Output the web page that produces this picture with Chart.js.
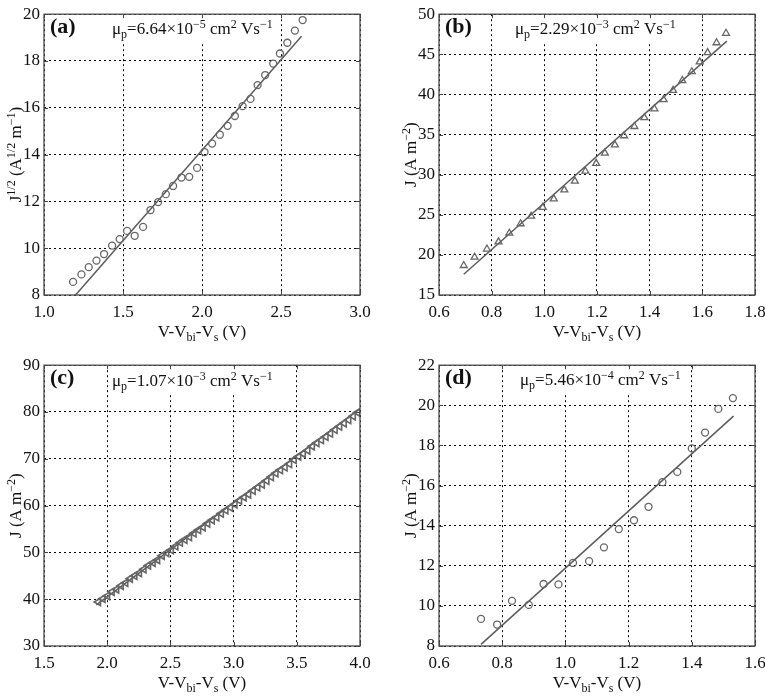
<!DOCTYPE html>
<html>
<head>
<meta charset="utf-8">
<script src="https://cdn.jsdelivr.net/npm/chart.js@4.4.0/dist/chart.umd.min.js"></script>
<style>
  body { margin: 0; background: #fff; overflow: hidden; width: 765px; height: 697px; position: relative; }
  canvas { position: absolute; }
</style>
</head>
<body>
<canvas id="chartA" width="382" height="350" style="left:0;top:0"></canvas>
<canvas id="chartB" width="382" height="350" style="left:395px;top:0"></canvas>
<canvas id="chartC" width="382" height="350" style="left:0;top:351px"></canvas>
<canvas id="chartD" width="382" height="350" style="left:395px;top:351px"></canvas>
<script>
// panel (a): J^1/2 vs V
const aV = [1.184, 1.237, 1.283, 1.332, 1.380, 1.431, 1.479, 1.526, 1.574, 1.627, 1.674, 1.722, 1.771, 1.817, 1.870, 1.919,
            1.969, 2.016, 2.064, 2.113, 2.162, 2.208, 2.257, 2.307, 2.352, 2.400, 2.451, 2.493, 2.540, 2.588, 2.637];
const aJ = [8.56, 8.88, 9.19, 9.47, 9.75, 10.11, 10.39, 10.74, 10.53, 10.91, 11.63, 11.97, 12.31, 12.66, 13.02, 13.05,
            13.43, 14.11, 14.47, 14.85, 15.23, 15.65, 16.07, 16.38, 16.97, 17.40, 17.89, 18.32, 18.78, 19.30, 19.75];
const aFitV = [1.2, 2.63];
const aFitJ = [8.0, 19.06];

// panel (b)
const bV = [0.694, 0.735, 0.782, 0.826, 0.867, 0.910, 0.950, 0.994, 1.036, 1.076, 1.116, 1.156, 1.197, 1.230,
            1.268, 1.303, 1.342, 1.380, 1.418, 1.453, 1.489, 1.524, 1.560, 1.590, 1.620, 1.654, 1.690];
const bJ = [18.68, 19.71, 20.73, 21.63, 22.70, 23.88, 24.82, 25.93, 26.99, 28.10, 29.20, 30.43, 31.41, 32.68,
            33.71, 34.85, 36.00, 37.10, 38.21, 39.36, 40.50, 41.73, 42.83, 44.06, 45.21, 46.44, 47.62];
const bFitV = [0.694, 1.693];
const bFitJ = [17.58, 46.64];

// panel (c)
const cV = [1.930, 1.966, 2.002, 2.038, 2.074, 2.110, 2.146, 2.182, 2.218, 2.254, 2.290, 2.326, 2.362, 2.398, 2.434,
            2.470, 2.506, 2.542, 2.578, 2.614, 2.650, 2.686, 2.722, 2.758, 2.794, 2.830, 2.866, 2.902, 2.938, 2.974,
            3.010, 3.046, 3.082, 3.118, 3.154, 3.190, 3.226, 3.262, 3.298, 3.334, 3.370, 3.406, 3.442, 3.478, 3.514,
            3.550, 3.586, 3.622, 3.658, 3.694, 3.730, 3.766, 3.802, 3.838, 3.874, 3.910, 3.946, 3.982];
const cJ = [39.4, 40.1, 40.7, 41.6, 42.1, 42.9, 43.5, 44.4, 45.0, 45.6, 46.4, 47.2, 47.8, 48.4, 49.3,
            49.9, 50.5, 51.3, 52.1, 52.7, 53.3, 54.1, 54.8, 55.4, 56.2, 56.9, 57.5, 58.3, 59.0, 59.6,
            60.3, 61.1, 61.8, 62.4, 63.2, 63.9, 64.5, 65.3, 66.1, 66.9, 67.6, 68.2, 68.9, 69.8, 70.5,
            71.1, 71.8, 72.7, 73.4, 74.0, 74.7, 75.4, 76.2, 76.9, 77.6, 78.3, 79.1, 79.9];
const cFitV = [1.914, 3.995];
const cFitJ = [38.8, 80.6];

// panel (d)
const dV = [0.733, 0.784, 0.831, 0.884, 0.931, 0.978, 1.024, 1.075, 1.122, 1.169, 1.217, 1.263, 1.307, 1.354,
            1.400, 1.442, 1.484, 1.530];
const dJ = [9.35, 9.07, 10.25, 10.05, 11.09, 11.07, 12.14, 12.23, 12.92, 13.83, 14.27, 14.94, 16.17, 16.68,
            17.85, 18.64, 19.82, 20.36];
const dFitV = [0.733, 1.532];
const dFitJ = [8.08, 19.46];

const FONT = 'Liberation Serif';
const MARK = '#666';
Chart.defaults.font.family = FONT;

// draws "V-V_{bi}" / "m^{-1}" style text on the canvas, returns its width
function drawRich(ctx, text, x, y, size, align, measureOnly) {
  const parts = [];
  const re = /([_^])\{([^}]*)\}|([^_^]+)/g;
  let m;
  while ((m = re.exec(text)) !== null) {
    if (m[3]) parts.push({ t: m[3], k: '' });
    else parts.push({ t: m[2], k: m[1] });
  }
  const small = Math.round(size * 0.7);
  let total = 0;
  parts.forEach(p => {
    ctx.font = (p.k ? small : size) + 'px "' + FONT + '"';
    p.w = ctx.measureText(p.t).width;
    total += p.w;
  });
  if (measureOnly) return total;
  let cx = align === 'center' ? x - total / 2 : x;
  ctx.textAlign = 'left';
  ctx.textBaseline = 'alphabetic';
  parts.forEach(p => {
    ctx.font = (p.k ? small : size) + 'px "' + FONT + '"';
    const dy = p.k === '_' ? size * 0.25 : p.k === '^' ? -size * 0.38 : 0;
    ctx.fillText(p.t, cx, y + dy);
    cx += p.w;
  });
  return total;
}

const panelText = {
  id: 'panelText',
  afterDraw(chart) {
    const o = chart.options.plugins.panelText;
    const ctx = chart.ctx;
    const a = chart.chartArea;
    ctx.save();

    // white patch under the mobility note, grid lines stop below it
    const nx = a.left + o.noteX, ny = a.top + o.noteY;
    const nw = drawRich(ctx, o.note, nx, ny, 17, 'left', true);
    ctx.fillStyle = '#fff';
    ctx.fillRect(nx - 3, a.top + 1, nw + 6, o.noteY + 7);

    // inward tick marks
    ctx.strokeStyle = '#444';
    ctx.lineWidth = 1;
    const xs = chart.scales.x, ys = chart.scales.y;
    ctx.beginPath();
    xs.ticks.forEach(t => {
      const px = Math.round(xs.getPixelForValue(t.value)) + 0.5;
      ctx.moveTo(px, a.bottom); ctx.lineTo(px, a.bottom - 4);
      ctx.moveTo(px, a.top); ctx.lineTo(px, a.top + 4);
    });
    ys.ticks.forEach(t => {
      const py = Math.round(ys.getPixelForValue(t.value)) + 0.5;
      ctx.moveTo(a.left, py); ctx.lineTo(a.left + 4, py);
      ctx.moveTo(a.right, py); ctx.lineTo(a.right - 4, py);
    });
    ctx.stroke();

    // frame
    ctx.strokeStyle = '#4a4a4a';
    ctx.lineWidth = 1.3;
    ctx.strokeRect(a.left, a.top, a.right - a.left, a.bottom - a.top);

    ctx.fillStyle = '#111';
    ctx.font = 'bold 22px "' + FONT + '"';
    ctx.textAlign = 'left';
    ctx.fillText(o.tag, a.left + 6, a.top + 19);

    drawRich(ctx, o.note, nx, ny, 17, 'left');
    drawRich(ctx, 'V-V_{bi}-V_{s} (V)', (a.left + a.right) / 2, a.bottom + 42, 17, 'center');

    ctx.translate(a.left - 28, (a.top + a.bottom) / 2);
    ctx.rotate(-Math.PI / 2);
    drawRich(ctx, o.yTitle, 0, 5, 17, 'center');
    ctx.restore();
  }
};

function makeChart(id, vs, js, fitV, fitJ, marker, xr, yr, txt) {
  const pts = vs.map((v, i) => ({ x: v, y: js[i] }));
  const fit = fitV.map((v, i) => ({ x: v, y: fitJ[i] }));
  return new Chart(document.getElementById(id), {
    type: 'scatter',
    data: {
      datasets: [
        {
          data: pts,
          pointStyle: marker.style,
          rotation: marker.rotation || 0,
          pointRadius: marker.radius,
          pointBorderColor: MARK,
          pointBackgroundColor: 'rgba(0,0,0,0)',
          pointBorderWidth: marker.width || 1.3,
          showLine: false
        },
        {
          type: 'line',
          data: fit,
          borderColor: '#5c5c5c',
          borderWidth: 1.5,
          pointRadius: 0,
          fill: false
        }
      ]
    },
    options: {
      responsive: false,
      animation: false,
      layout: { padding: { left: 0, top: 10, right: 22, bottom: 0 } },
      plugins: {
        legend: { display: false },
        tooltip: { enabled: false },
        panelText: txt
      },
      scales: {
        x: {
          type: 'linear',
          min: xr[0], max: xr[1],
          afterFit: s => { s.height = 55; },
          afterBuildTicks: s => { s.ticks = xr[2].map(v => ({ value: v })); },
          border: { display: false, dash: [2, 3] },
          grid: { color: '#000', lineWidth: 1, drawTicks: false },
          ticks: {
            autoSkip: false, maxRotation: 0, padding: 7, color: '#111',
            font: { family: FONT, size: 17 },
            callback: v => v.toFixed(1)
          }
        },
        y: {
          min: yr[0], max: yr[1],
          afterFit: s => { s.width = 44; },
          afterBuildTicks: s => { s.ticks = yr[2].map(v => ({ value: v })); },
          border: { display: false, dash: [2, 3] },
          grid: { color: '#000', lineWidth: 1, drawTicks: false },
          ticks: {
            autoSkip: false, padding: 4, color: '#111',
            font: { family: FONT, size: 17 },
            callback: v => String(v)
          }
        }
      }
    },
    plugins: [panelText]
  });
}

makeChart('chartA', aV, aJ, aFitV, aFitJ, { style: 'circle', radius: 3.5 },
  [1.0, 3.0, [1.0, 1.5, 2.0, 2.5, 3.0]], [8, 20, [8, 10, 12, 14, 16, 18, 20]],
  { tag: '(a)', note: 'μ_{p}=6.64×10^{−5} cm^{2} Vs^{−1}', noteX: 68, noteY: 20,
    yTitle: 'J^{1/2} (A^{1/2} m^{−1})' });

makeChart('chartB', bV, bJ, bFitV, bFitJ, { style: 'triangle', radius: 4 },
  [0.6, 1.8, [0.6, 0.8, 1.0, 1.2, 1.4, 1.6, 1.8]], [15, 50, [15, 20, 25, 30, 35, 40, 45, 50]],
  { tag: '(b)', note: 'μ_{p}=2.29×10^{−3} cm^{2} Vs^{−1}', noteX: 76, noteY: 20,
    yTitle: 'J (A m^{−2})' });

makeChart('chartC', cV, cJ, cFitV, cFitJ, { style: 'triangle', radius: 4.2, rotation: -90, width: 1.6 },
  [1.5, 4.0, [1.5, 2.0, 2.5, 3.0, 3.5, 4.0]], [30, 90, [30, 40, 50, 60, 70, 80, 90]],
  { tag: '(c)', note: 'μ_{p}=1.07×10^{−3} cm^{2} Vs^{−1}', noteX: 68, noteY: 21,
    yTitle: 'J (A m^{−2})' });

makeChart('chartD', dV, dJ, dFitV, dFitJ, { style: 'circle', radius: 3.5 },
  [0.6, 1.6, [0.6, 0.8, 1.0, 1.2, 1.4, 1.6]], [8, 22, [8, 10, 12, 14, 16, 18, 20, 22]],
  { tag: '(d)', note: 'μ_{p}=5.46×10^{−4} cm^{2} Vs^{−1}', noteX: 81, noteY: 20,
    yTitle: 'J (A m^{−2})' });
</script>
</body>
</html>
